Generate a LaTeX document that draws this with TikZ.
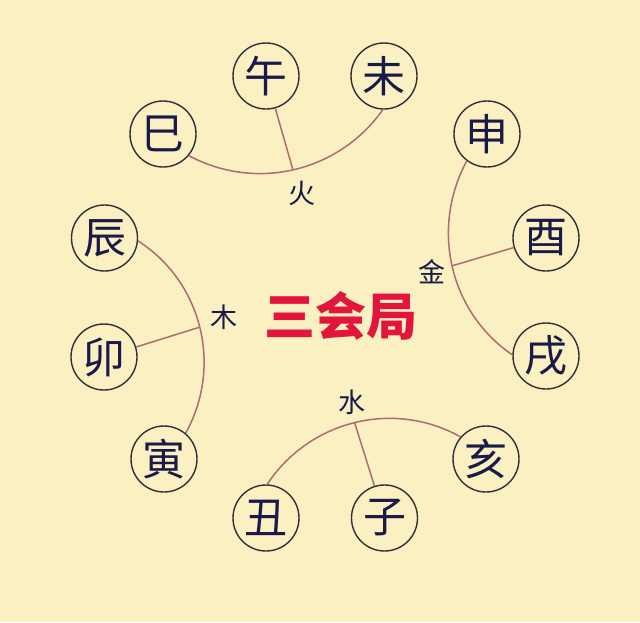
\documentclass[tikz,border=0pt]{standalone}
\usepackage{fontspec}
\newfontfamily\cjk{Noto Sans CJK SC}
\definecolor{bg}{HTML}{FAF0C2}
\definecolor{ink}{HTML}{1A1A4A}
\definecolor{circ}{HTML}{303038}
\definecolor{arcc}{HTML}{B06A72}
\definecolor{titlered}{HTML}{E2163C}
\begin{document}
\begin{tikzpicture}[x=1pt,y=-1pt,
  branch/.style={circle,draw=circ,line width=1.4pt,minimum size=66pt,inner sep=0pt,text=ink,font=\cjk\fontsize{43}{43}\selectfont},
  elem/.style={text=ink,inner sep=0pt,font=\cjk\fontsize{27}{27}\selectfont},
  titletext/.style={text=titlered,inner sep=0pt,font=\cjk\bfseries\fontsize{51}{51}\selectfont},
  arcline/.style={draw=arcc,line width=1.5pt}]
\fill[bg] (0,0) rectangle (640,622);
\useasboundingbox (0,0) rectangle (640,622);
% branches
\node[branch] (si) at (163,134) {巳};
\node[branch] (wu) at (266,76) {午};
\node[branch] (wei) at (384,76) {未};
\node[branch] (shen) at (487,134) {申};
\node[branch] (you) at (546,238) {酉};
\node[branch] (xu) at (546,356) {戌};
\node[branch] (hai) at (486,459) {亥};
\node[branch] (zi) at (384.5,518) {子};
\node[branch] (chou) at (266,518) {丑};
\node[branch] (yin) at (164,459) {寅};
\node[branch] (mao) at (104,357) {卯};
\node[branch] (chen) at (104.5,238) {辰};
% arcs
\draw[arcline] (si.-40) .. controls (256.9,192.0) and (339.3,171.3) .. (wei.-92) coordinate[pos=0.49] (jhuo);
\draw[arcline] (jhuo) -- (wu);
\draw[arcline] (shen.233) .. controls (429.8,229.8) and (450.5,312.7) .. (xu.178) coordinate[pos=0.49] (jjin);
\draw[arcline] (jjin) -- (you);
\draw[arcline] (chen.-5) .. controls (201.8,281.8) and (223.0,365.9) .. (yin.50) coordinate[pos=0.5] (jmu);
\draw[arcline] (jmu) -- (mao);
\draw[arcline] (chou.88) .. controls (309.3,420.5) and (393.7,399.4) .. (hai.139) coordinate[pos=0.5] (jshui);
\draw[arcline] (jshui) -- (zi);
% labels
\node[elem] (huo) at (302,193) {火};
\node[elem] (jin) at (432,272) {金};
\node[elem] (mu) at (224,317) {木};
\node[elem] (shui) at (352,402) {水};
\node[titletext] (sanhui) at (341,315.5) {三会局};
\end{tikzpicture}
\end{document}
